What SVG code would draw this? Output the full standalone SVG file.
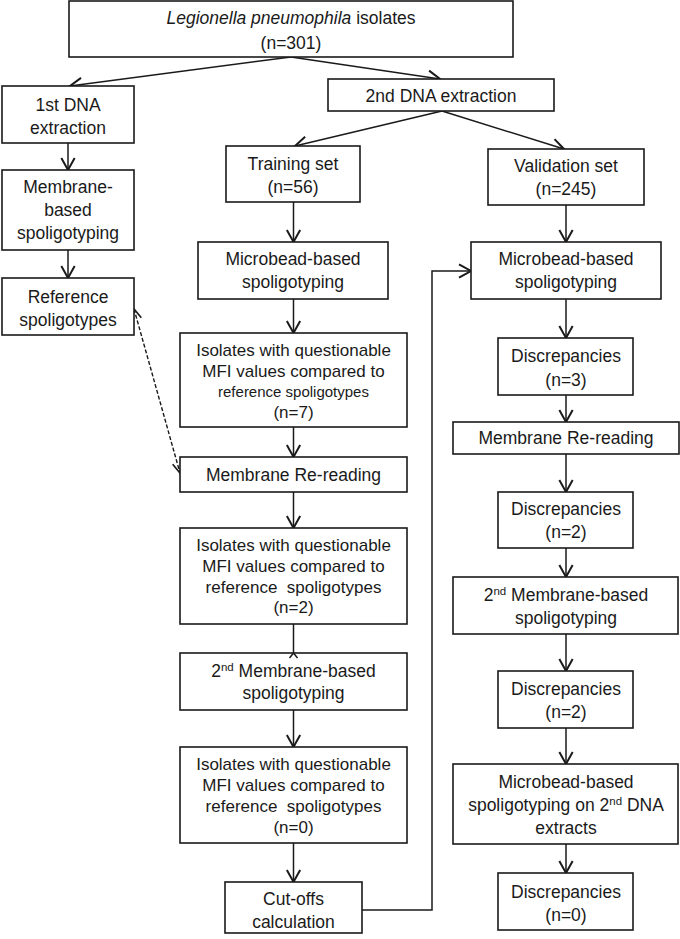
<svg xmlns="http://www.w3.org/2000/svg" width="680" height="939" viewBox="0 0 680 939">
<style>
rect.b{fill:#fff;stroke:#1a1a1a;stroke-width:1.6}
text{font-family:"Liberation Sans",Arial,sans-serif;font-size:17.5px;fill:#1a1a1a;text-anchor:middle}
text.s{font-size:17px}
text.r{font-size:15px}
.c{fill:none;stroke:#1a1a1a;stroke-width:1.5}
.d{fill:none;stroke:#1a1a1a;stroke-width:1.4;stroke-dasharray:4 2}
</style>
<defs>
<marker id="a" markerUnits="userSpaceOnUse" markerWidth="16" markerHeight="16" refX="10" refY="6" orient="auto" viewBox="0 0 12 12">
<path d="M1,1 L10,6 L1,11" fill="none" stroke="#1a1a1a" stroke-width="1.5"/>
</marker>
<marker id="as" markerUnits="userSpaceOnUse" markerWidth="14" markerHeight="14" refX="10" refY="6" orient="auto-start-reverse" viewBox="0 0 12 12">
<path d="M1,2 L10,6 L1,10" fill="none" stroke="#1a1a1a" stroke-width="1.4"/>
</marker>
</defs>

<g id="connectors">
<line class="c" x1="291" y1="57" x2="70" y2="86" marker-end="url(#a)"/>
<line class="c" x1="291" y1="57" x2="440" y2="79" marker-end="url(#a)"/>
<line class="c" x1="68" y1="143" x2="68" y2="170" marker-end="url(#a)"/>
<line class="c" x1="68" y1="250" x2="68" y2="278" marker-end="url(#a)"/>
<line class="d" x1="134" y1="309" x2="180" y2="473" marker-start="url(#as)" marker-end="url(#as)"/>
<line class="c" x1="442" y1="111" x2="295" y2="146" marker-end="url(#a)"/>
<line class="c" x1="442" y1="111" x2="564" y2="149" marker-end="url(#a)"/>
<line class="c" x1="293.5" y1="202" x2="293.5" y2="242" marker-end="url(#a)"/>
<line class="c" x1="293.5" y1="299" x2="293.5" y2="333" marker-end="url(#a)"/>
<line class="c" x1="293.5" y1="427" x2="293.5" y2="457" marker-end="url(#a)"/>
<line class="c" x1="293.5" y1="492" x2="293.5" y2="528" marker-end="url(#a)"/>
<line class="c" x1="293.5" y1="624" x2="293.5" y2="653"/>
<line class="c" x1="293.5" y1="710" x2="293.5" y2="747" marker-end="url(#a)"/>
<line class="c" x1="293.5" y1="843" x2="293.5" y2="882" marker-end="url(#a)"/>
<polyline class="c" points="362,910 432,910 432,271 471,271" marker-end="url(#a)"/>
<line class="c" x1="566" y1="205" x2="566" y2="242" marker-end="url(#a)"/>
<line class="c" x1="566" y1="299" x2="566" y2="338" marker-end="url(#a)"/>
<line class="c" x1="566" y1="395" x2="566" y2="422" marker-end="url(#a)"/>
<line class="c" x1="566" y1="454" x2="566" y2="492" marker-end="url(#a)"/>
<line class="c" x1="566" y1="548" x2="566" y2="577" marker-end="url(#a)"/>
<line class="c" x1="566" y1="634" x2="566" y2="671" marker-end="url(#a)"/>
<line class="c" x1="566" y1="728" x2="566" y2="764" marker-end="url(#a)"/>
<line class="c" x1="566" y1="844" x2="566" y2="873" marker-end="url(#a)"/>
</g>

<g id="top"><rect class="b" x="69" y="1" width="444" height="56"/>
<text x="291" y="24"><tspan font-style="italic">Legionella pneumophila</tspan> isolates</text>
<text x="291" y="49">(n=301)</text></g>

<g id="dna1"><rect class="b" x="2" y="86" width="132" height="57"/>
<text x="68" y="111">1st DNA</text><text x="68" y="134">extraction</text></g>

<g id="dna2"><rect class="b" x="328" y="79" width="226" height="32"/>
<text x="441" y="102">2nd DNA extraction</text></g>

<g id="membrane1"><rect class="b" x="2" y="170" width="132" height="80"/>
<text x="68" y="193">Membrane-</text><text x="68" y="216">based</text><text x="68" y="239">spoligotyping</text></g>

<g id="reference"><rect class="b" x="2" y="278" width="132" height="57"/>
<text x="68" y="303">Reference</text><text x="68" y="326">spoligotypes</text></g>

<g id="training"><rect class="b" x="226" y="146" width="134" height="56"/>
<text x="293" y="170">Training set</text><text x="293" y="193">(n=56)</text></g>

<g id="validation"><rect class="b" x="488" y="149" width="156" height="56"/>
<text x="566" y="172">Validation set</text><text x="566" y="195">(n=245)</text></g>

<g id="microbead-train"><rect class="b" x="198" y="242" width="190" height="57"/>
<text x="293" y="265">Microbead-based</text><text x="293" y="288">spoligotyping</text></g>

<g id="isolates7"><rect class="b" x="180" y="333" width="227" height="94"/>
<text class="s" x="293.5" y="356">Isolates with questionable</text>
<text class="s" x="293.5" y="377">MFI values compared to</text>
<text class="r" x="293.5" y="397">reference spoligotypes</text>
<text class="s" x="293.5" y="418">(n=7)</text></g>

<g id="rereading-train"><rect class="b" x="180" y="457" width="227" height="35"/>
<text x="293.5" y="481">Membrane Re-reading</text></g>

<g id="isolates2"><rect class="b" x="180" y="528" width="227" height="96"/>
<text class="s" x="293.5" y="551">Isolates with questionable</text>
<text class="s" x="293.5" y="572">MFI values compared to</text>
<text class="s" x="293.5" y="593" xml:space="preserve">reference  spoligotypes</text>
<text class="s" x="293.5" y="613">(n=2)</text></g>

<g id="membrane2-train"><rect class="b" x="180" y="653" width="227" height="57"/>
<path class="c" d="M289.5,658 L293.5,653 L297.5,658"/>
<text x="293.5" y="677">2<tspan font-size="11.5" dy="-6">nd</tspan><tspan dy="6"> Membrane-based</tspan></text>
<text x="293.5" y="699">spoligotyping</text></g>

<g id="isolates0"><rect class="b" x="180" y="747" width="227" height="96"/>
<text class="s" x="293.5" y="770">Isolates with questionable</text>
<text class="s" x="293.5" y="791">MFI values compared to</text>
<text class="s" x="293.5" y="812" xml:space="preserve">reference  spoligotypes</text>
<text class="s" x="293.5" y="833">(n=0)</text></g>

<g id="cutoffs"><rect class="b" x="225" y="882" width="137" height="51"/>
<text x="293.5" y="905">Cut-offs</text><text x="293.5" y="928">calculation</text></g>

<g id="microbead-valid"><rect class="b" x="471" y="242" width="190" height="57"/>
<text x="566" y="265">Microbead-based</text><text x="566" y="288">spoligotyping</text></g>

<g id="disc3"><rect class="b" x="498" y="338" width="135" height="57"/>
<text x="566" y="362">Discrepancies</text><text x="566" y="386">(n=3)</text></g>

<g id="rereading-valid"><rect class="b" x="453" y="422" width="226" height="32"/>
<text x="566" y="444">Membrane Re-reading</text></g>

<g id="disc2a"><rect class="b" x="498" y="492" width="135" height="56"/>
<text x="566" y="515">Discrepancies</text><text x="566" y="538">(n=2)</text></g>

<g id="membrane2-valid"><rect class="b" x="453" y="577" width="225" height="57"/>
<text x="566" y="601">2<tspan font-size="11.5" dy="-6">nd</tspan><tspan dy="6"> Membrane-based</tspan></text>
<text x="566" y="624">spoligotyping</text></g>

<g id="disc2b"><rect class="b" x="498" y="671" width="135" height="57"/>
<text x="566" y="695">Discrepancies</text><text x="566" y="718">(n=2)</text></g>

<g id="microbead-2nd"><rect class="b" x="453" y="764" width="225" height="80"/>
<text x="566" y="788">Microbead-based</text>
<text x="566" y="811">spoligotyping on 2<tspan font-size="11.5" dy="-6">nd</tspan><tspan dy="6"> DNA</tspan></text>
<text x="566" y="834">extracts</text></g>

<g id="disc0"><rect class="b" x="498" y="873" width="135" height="57"/>
<text x="566" y="898">Discrepancies</text><text x="566" y="921">(n=0)</text></g>
</svg>
